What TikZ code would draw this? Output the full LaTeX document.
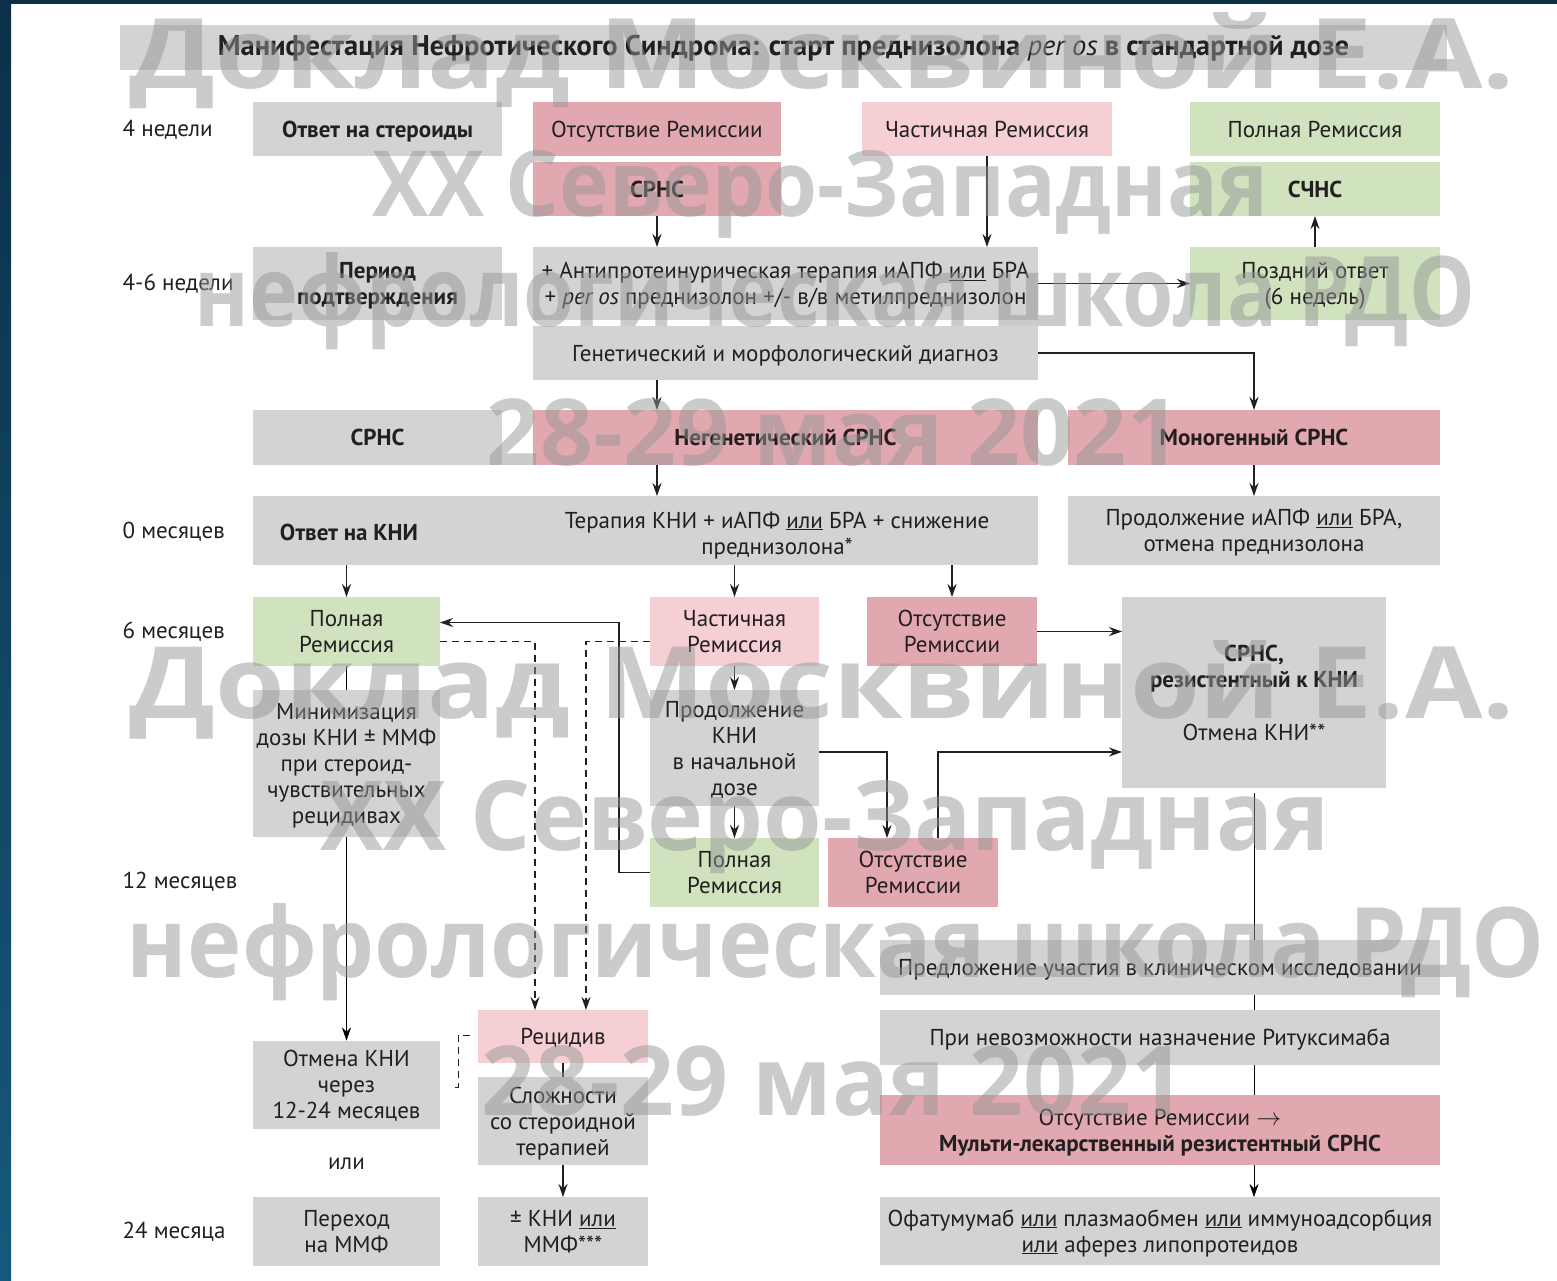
\documentclass[tikz,border=0pt]{standalone}
\usepackage{graphicx}
\usepackage{fontspec}
\setmainfont{PT Sans}
\newfontfamily\markfont{Open Sans}
\usetikzlibrary{positioning}
\usetikzlibrary{calc}
\usetikzlibrary{arrows.meta}

\definecolor{boxgrey}{RGB}{209,211,212}
\definecolor{remred}{RGB}{226,168,175}
\definecolor{rempink}{RGB}{245,207,211}
\definecolor{remgreen}{RGB}{208,226,190}
\definecolor{inkdark}{RGB}{35,31,32}
\definecolor{markgrey}{RGB}{150,152,152}
\definecolor{framenavy}{RGB}{12,48,72}
\definecolor{framesea}{RGB}{22,88,124}

\newcommand\bodyfont{\fontsize{23}{26}\selectfont}
\newcommand\titlefont{\bfseries\fontsize{28.5}{30}\selectfont}
\newcommand\markfontsize{\markfont\bfseries\fontsize{100}{100}\selectfont}
% invisible rule that keeps the text of every box on the same level
\newcommand\boxstrut{\rule[-8pt]{0pt}{32pt}}
% watermark line stretched to a given width and cap height (in pixels)
\newcommand\markbox[3]{\resizebox{#1pt}{#2pt}{#3}}

\tikzset{
    % Filled arrow heads on every connector
    >={Stealth[length=13pt,width=9pt]},
%
    % Every box of the scheme: flat fill, no border, struts keep baselines level
    step box/.style={rectangle, inner sep=2pt, outer sep=0pt,
        align=center, text=inkdark, font=\bodyfont,
        execute at begin node=\boxstrut, execute at end node=\boxstrut},
    % Size of a box, in pixels of the original scheme
    box size/.style 2 args={minimum width=#1, minimum height=#2},
%
    % The four fills of the scheme
    grey fill/.style={fill=boxgrey},
    red fill/.style={fill=remred},
    pink fill/.style={fill=rempink},
    green fill/.style={fill=remgreen},
%
    % Time marks down the left margin
    time label/.style={anchor=west, inner sep=0pt, text=inkdark, font=\bodyfont},
%
    % Dashed lines leading to a relapse
    relapse/.style={dash pattern=on 7pt off 5pt},
%
    % Large see-through lettering over the scheme
    watermark/.style={anchor=base, inner sep=0pt, text=markgrey,
        text opacity=0.5, font=\markfontsize}}
\pgfdeclarelayer{background}
\pgfsetlayers{background,main}

\begin{document}
\begin{tikzpicture}[x=1pt, y=-1pt, line width=1.4pt, color=inkdark]
\useasboundingbox (0,0) rectangle (1557,1280);

% Title bar across the top
\node[step box, grey fill, box size={1327}{45}, font=\titlefont] (title)
    at (783.5,47.5) {Манифестация Нефротического Синдрома: старт преднизолона
    \textmd{\textit{per os}} в стандартной дозе};

% Time marks
\node[time label] (week4) at (122,130) {4 недели};
\node[time label] (week46) at (122,284) {4-6 недели};
\node[time label] (month0) at (122,532) {0 месяцев};
\node[time label] (month6) at (122,632) {6 месяцев};
\node[time label] (month12) at (122,882) {12 месяцев};
\node[time label] (month24) at (122,1232) {24 месяца};

% Response to steroids after four weeks
\node[step box, grey fill, box size={249}{54}, font=\bodyfont\bfseries] (otvet)
    at (377.5,129) {Ответ на стероиды};
\node[step box, red fill, box size={248}{54}] (otsut1) at (657,129) {Отсутствие Ремиссии};
\node[step box, pink fill, box size={250}{54}] (chast1) at (987,129) {Частичная Ремиссия};
\node[step box, green fill, box size={250}{54}] (poln1) at (1315,129) {Полная Ремиссия};
\node[step box, red fill, box size={248}{54}, font=\bodyfont\bfseries] (srns1)
    at (657,189) {СРНС};
\node[step box, green fill, box size={250}{54}, font=\bodyfont\bfseries] (schns)
    at (1315,189) {СЧНС};

% Confirmation period
\node[step box, grey fill, box size={249}{73}, font=\bodyfont\bfseries] (period)
    at (377.5,283.5) {\boxstrut Период\\подтверждения};
\node[step box, grey fill, box size={505}{73}] (antip) at (785.5,283.5)
    {\boxstrut + Антипротеинурическая терапия иАПФ \underline{или} БРА\\
     + \textit{per os} преднизолон +/- в/в метилпреднизолон};
\node[step box, green fill, box size={250}{73}] (pozd) at (1315,283.5)
    {\boxstrut Поздний ответ\\(6 недель)};
\node[step box, grey fill, box size={505}{54}] (genet) at (785.5,353)
    {Генетический и морфологический диагноз};

% Kind of SRNS
\node[step box, grey fill, box size={249}{55}, font=\bodyfont\bfseries] (srns2)
    at (377.5,437.5) {СРНС};
\node[step box, red fill, box size={505}{55}, font=\bodyfont\bfseries] (negen)
    at (785.5,437.5) {Негенетический СРНС};
\node[step box, red fill, box size={372}{55}, font=\bodyfont\bfseries] (monog)
    at (1254,437.5) {Моногенный СРНС};

% Response to CNI
\node[step box, grey fill, box size={785}{69}] (knibox) at (645.5,530.5) {};
\node[step box, font=\bodyfont\bfseries] (otvetkni) at (349,532) {Ответ на КНИ};
\node[step box] (kniterapy) at (777,533)
    {\boxstrut Терапия КНИ + иАПФ \underline{или} БРА + снижение\\преднизолона*};
\node[step box, grey fill, box size={372}{69}] (prodiapf) at (1254,530.5)
    {\boxstrut Продолжение иАПФ \underline{или} БРА,\\отмена преднизолона};

% Six months
\node[step box, green fill, box size={187}{69}] (poln2) at (346.5,631.5)
    {\boxstrut Полная\\Ремиссия};
\node[step box, pink fill, box size={169}{69}] (chast2) at (734.5,631.5)
    {\boxstrut Частичная\\Ремиссия};
\node[step box, red fill, box size={170}{69}] (otsut2) at (952,631.5)
    {\boxstrut Отсутствие\\Ремиссии};
\node[step box, grey fill, box size={264}{191}] (resist) at (1254,692.5)
    {\boxstrut\textbf{СРНС,}\\\textbf{резистентный к КНИ}\\[27pt]Отмена КНИ**};
\node[step box, grey fill, box size={187}{147}] (minim) at (346.5,763.5)
    {\boxstrut Минимизация\\дозы КНИ ± ММФ\\при стероид-\\чувствительных\\рецидивах};
\node[step box, grey fill, box size={169}{116}] (prodkni) at (734.5,748)
    {\boxstrut Продолжение\\КНИ\\в начальной\\дозе};
\node[step box, green fill, box size={169}{69}] (poln3) at (734.5,872.5)
    {\boxstrut Полная\\Ремиссия};
\node[step box, red fill, box size={170}{69}] (otsut3) at (913,872.5)
    {\boxstrut Отсутствие\\Ремиссии};

% Resistant branch on the right
\node[step box, grey fill, box size={560}{55}] (predl) at (1160,967.5)
    {Предложение участия в клиническом исследовании};
\node[step box, grey fill, box size={560}{55}] (pririx) at (1160,1037.5)
    {При невозможности назначение Ритуксимаба};
\node[step box, red fill, box size={560}{70}] (mdr) at (1160,1130)
    {\boxstrut Отсутствие Ремиссии $\rightarrow$\\\textbf{Мульти-лекарственный резистентный СРНС}};
\node[step box, grey fill, box size={560}{68}] (ofat) at (1160,1231)
    {\boxstrut Офатумумаб \underline{или} плазмаобмен \underline{или} иммуноадсорбция\\
     \underline{или} аферез липопротеидов};

% Withdrawal and relapse
\node[step box, grey fill, box size={187}{85}] (otmena) at (346.5,1084.5)
    {\boxstrut Отмена КНИ\\через\\12-24 месяцев};
\node[step box] (ili) at (346.5,1161) {или};
\node[step box, grey fill, box size={187}{69}] (perehod) at (346.5,1231.5)
    {\boxstrut Переход\\на ММФ};
\node[step box, pink fill, box size={170}{53}] (recid) at (563,1036.5) {Рецидив};
\node[step box, grey fill, box size={170}{86}] (slozh) at (563,1121)
    {\boxstrut Сложности\\со стероидной\\терапией};
\node[step box, grey fill, box size={170}{69}] (kniimmf) at (563,1231.5)
    {\boxstrut ± КНИ \underline{или}\\ММФ***};

% Connectors of the upper part
\draw[->] (srns1) -- (srns1 |- antip.north);
\draw[->] (chast1) -- (chast1 |- antip.north);
\draw[->] (antip) -- (pozd);
\draw[->] (pozd) -- (schns);
\draw[->] (genet) -| (monog);
\draw[->] (srns1 |- genet.south) -- (srns1 |- negen.north);
\draw[->] (srns1 |- negen.south) -- (srns1 |- knibox.north);
\draw[->] (monog) -- (prodiapf);

% Connectors after CNI therapy
\draw[->] (poln2 |- knibox.south) -- (poln2);
\draw[->] (chast2 |- knibox.south) -- (chast2);
\draw[->] (otsut2 |- knibox.south) -- (otsut2);
\draw[->] (otsut2) -- (otsut2 -| resist.west);
\draw[->] (chast2) -- (prodkni);
\draw[->] (prodkni) -- (poln3);
\draw[->] ([yshift=-4pt]prodkni.east) -| ([xshift=-26pt]otsut3.north);
\draw[->] ([xshift=25pt]otsut3.north) |- ([yshift=-4pt]prodkni.east -| resist.west);
\draw[->] (poln3.west) -- ++(-31,0) |- ([yshift=9pt]poln2.east);

% Relapse paths
\draw[->, relapse] ([yshift=-10pt]poln2.east) -| ([xshift=-28pt]recid.north);
\draw[->, relapse] ([yshift=-10pt]chast2.west) -| ([xshift=23pt]recid.north);
\draw (recid) -- (slozh);
\draw[->] (slozh) -- (kniimmf);
\coordinate (bracket top) at (470,1035);
\coordinate (bracket end) at (452,1087);
\draw[relapse, line width=1pt] (bracket top) -- ++(-12,0) |- (bracket end);

% Long lines running behind the boxes, and the dark frame
\begin{pgfonlayer}{background}
    \shade[top color=framenavy, bottom color=framesea] (0,0) rectangle (11,1280);
    \fill[framenavy] (0,0) rectangle (1557,4);
    \draw[->] (poln2) -- (otmena);
    \draw[->] ([yshift=-5pt]resist.south) -- (resist.south |- ofat.north);
\end{pgfonlayer}

% Watermark lettering
\node[watermark] (mark a) at (822.5,88) {\markbox{1385}{76}{Доклад Москвиной Е.А.}};
\node[watermark] (mark b) at (820,216) {\markbox{896}{66}{XX Северо-Западная}};
\node[watermark] (mark c) at (835,326) {\markbox{1280}{74}{нефрологическая школа РДО}};
\node[watermark] (mark d) at (833.5,465) {\markbox{693}{67}{28-29 мая 2021}};
\node[watermark] (mark e) at (822.5,718) {\markbox{1385}{78}{Доклад Москвиной Е.А.}};
\node[watermark] (mark f) at (825,850) {\markbox{1010}{70}{XX Северо-Западная}};
\node[watermark] (mark g) at (836,977) {\markbox{1418}{74}{нефрологическая школа РДО}};
\node[watermark] (mark h) at (833.5,1115) {\markbox{703}{70}{28-29 мая 2021}};

\end{tikzpicture}
\end{document}
